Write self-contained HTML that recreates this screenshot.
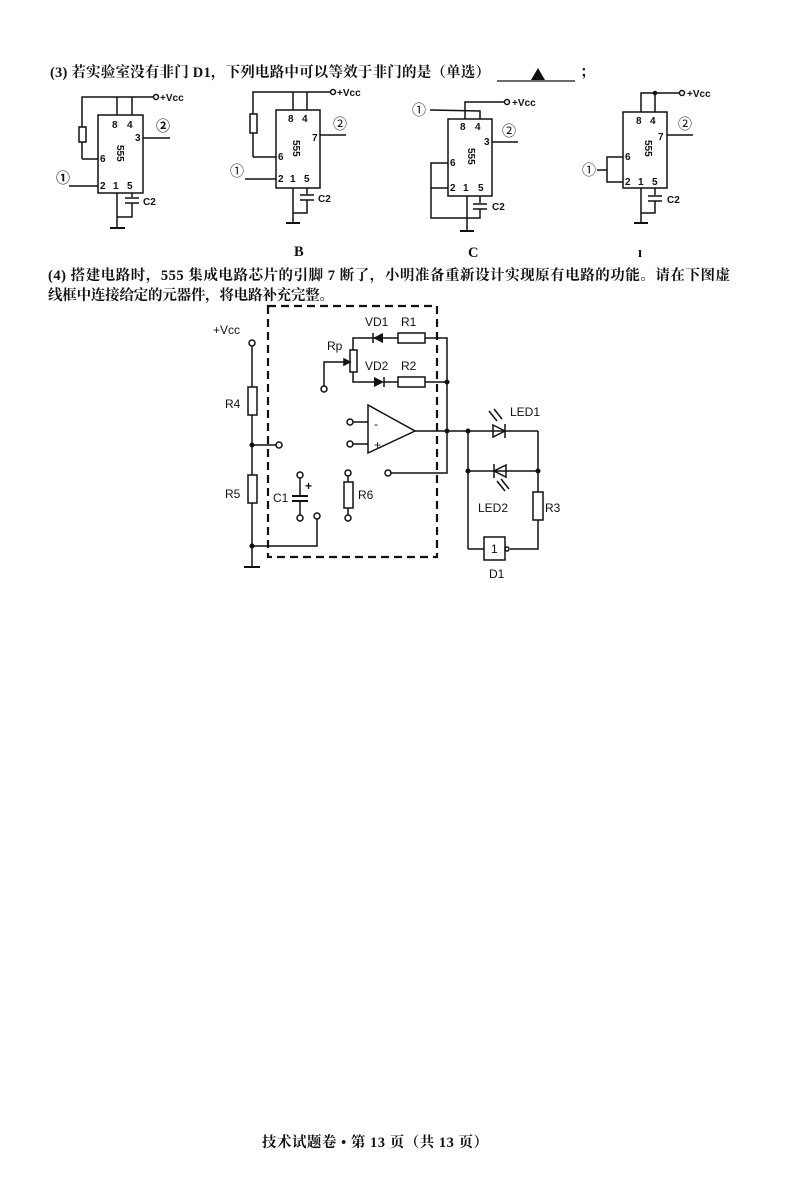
<!DOCTYPE html>
<html><head><meta charset="utf-8"><style>
body{margin:0;background:#fff}
svg{display:block}
text{font-family:"Liberation Sans","Noto Sans CJK SC",sans-serif;fill:#111}
.t{font-family:"Liberation Serif","Noto Serif CJK SC",serif;font-weight:bold;font-size:14.5px}
.s{font-size:10px;font-weight:bold}
.m{font-size:12px}
</style></head><body>
<svg width="800" height="1201" viewBox="0 0 800 1201" xmlns="http://www.w3.org/2000/svg" stroke="#111" stroke-width="1.5" fill="none">
<g stroke="none">
<text class="t" x="50" y="77" textLength="440" lengthAdjust="spacing">(3) 若实验室没有非门 D1，下列电路中可以等效于非门的是（单选）</text>
<text class="t" x="580" y="77">；</text>
<text class="t" x="48" y="280" textLength="682" lengthAdjust="spacing">(4) 搭建电路时，555 集成电路芯片的引脚 7 断了，小明准备重新设计实现原有电路的功能。请在下图虚</text>
<text class="t" x="48" y="300" textLength="286" lengthAdjust="spacing">线框中连接给定的元器件，将电路补充完整。</text>
<text class="t" x="262" y="1147" textLength="226" lengthAdjust="spacing">技术试题卷 • 第 13 页（共 13 页）</text>
</g>
<line x1="497" y1="81" x2="575" y2="81" stroke-width="1.2"/>
<polygon points="538,68 531,80 545,80" fill="#111" stroke="none"/>

<!-- A -->
<g>
<rect x="98" y="115" width="45" height="78"/>
<polyline points="82,159 98,159"/><polyline points="82,142 82,159"/><rect x="79" y="127" width="7" height="15"/>
<polyline points="82,127 82,97 153,97"/><circle cx="156" cy="97" r="2.5"/>
<line x1="117" y1="97" x2="117" y2="115"/><line x1="132" y1="97" x2="132" y2="115"/>
<line x1="69" y1="186" x2="98" y2="186"/><line x1="143" y1="138" x2="170" y2="138"/>
<line x1="117" y1="193" x2="117" y2="228"/><line x1="110" y1="228" x2="125" y2="228" stroke-width="2"/>
<polyline points="132,193 132,197"/><line x1="125" y1="198" x2="139" y2="198"/><line x1="125" y1="203" x2="139" y2="203"/><polyline points="132,203 132,217 117,217"/>
<g stroke="none" class="s"><text x="112" y="128" class="s">8</text><text x="127" y="128" class="s">4</text><text x="135" y="141" class="s">3</text><text x="100" y="162" class="s">6</text><text x="100" y="189" class="s">2</text><text x="113" y="189" class="s">1</text><text x="127" y="189" class="s">5</text><text x="160" y="101" class="s">+Vcc</text><text x="143" y="205" class="s">C2</text><text x="56" y="183" style="font-size:14px">①</text><text x="156" y="131" style="font-size:14px">②</text><text x="117" y="145" class="s" transform="rotate(90 117 145)">555</text></g>
</g>
<!-- B -->
<g>
<rect x="276" y="110" width="44" height="78"/>
<polyline points="253,157 276,157"/><line x1="253" y1="133" x2="253" y2="157"/><rect x="250" y="114" width="7" height="19"/>
<polyline points="253,114 253,92 330,92"/><circle cx="333" cy="92" r="2.5"/>
<line x1="293" y1="92" x2="293" y2="110"/><line x1="307" y1="92" x2="307" y2="110"/>
<line x1="245" y1="179" x2="276" y2="179"/><line x1="320" y1="135" x2="346" y2="135"/>
<line x1="293" y1="188" x2="293" y2="223"/><line x1="286" y1="223" x2="300" y2="223" stroke-width="2"/>
<polyline points="307,188 307,194"/><line x1="300" y1="195" x2="314" y2="195"/><line x1="300" y1="200" x2="314" y2="200"/><polyline points="307,200 307,213 293,213"/>
<g stroke="none"><text x="288" y="122" class="s">8</text><text x="302" y="122" class="s">4</text><text x="312" y="141" class="s">7</text><text x="278" y="160" class="s">6</text><text x="278" y="182" class="s">2</text><text x="290" y="182" class="s">1</text><text x="304" y="182" class="s">5</text><text x="337" y="96" class="s">+Vcc</text><text x="318" y="202" class="s">C2</text><text x="230" y="176" style="font-size:14px">①</text><text x="333" y="129" style="font-size:14px">②</text><text x="293" y="140" class="s" transform="rotate(90 293 140)">555</text><text x="294" y="256" class="t">B</text></g>
</g>
<!-- C -->
<g>
<rect x="448" y="119" width="44" height="77"/>
<polyline points="465,119 465,102 504,102"/><circle cx="507" cy="102" r="2.5"/>
<polyline points="430,110 480,111 480,119"/>
<line x1="492" y1="142" x2="518" y2="142"/>
<polyline points="448,163 431,163 431,188 448,188"/><polyline points="431,188 431,218 467,218"/>
<line x1="467" y1="196" x2="467" y2="231"/><line x1="460" y1="231" x2="474" y2="231" stroke-width="2"/>
<polyline points="480,196 480,203"/><line x1="473" y1="204" x2="487" y2="204"/><line x1="473" y1="209" x2="487" y2="209"/><polyline points="480,209 480,218 467,218"/>
<g stroke="none"><text x="460" y="130" class="s">8</text><text x="475" y="130" class="s">4</text><text x="484" y="145" class="s">3</text><text x="450" y="166" class="s">6</text><text x="450" y="191" class="s">2</text><text x="463" y="191" class="s">1</text><text x="478" y="191" class="s">5</text><text x="512" y="106" class="s">+Vcc</text><text x="492" y="210" class="s">C2</text><text x="412" y="115" style="font-size:14px">①</text><text x="502" y="136" style="font-size:14px">②</text><text x="468" y="148" class="s" transform="rotate(90 468 148)">555</text><text x="468" y="257" class="t">C</text></g>
</g>
<!-- D -->
<g>
<rect x="623" y="112" width="44" height="76"/>
<polyline points="641,112 641,93 679,93"/><circle cx="682" cy="93" r="2.5"/>
<line x1="655" y1="93" x2="655" y2="112"/><circle cx="655" cy="93" r="1.5" fill="#111"/>
<line x1="667" y1="135" x2="693" y2="135"/>
<polyline points="623,157 607,157 607,182 623,182"/><line x1="597" y1="170" x2="607" y2="170"/>
<line x1="641" y1="188" x2="641" y2="223"/><line x1="634" y1="223" x2="648" y2="223" stroke-width="2"/>
<polyline points="655,188 655,195"/><line x1="648" y1="196" x2="662" y2="196"/><line x1="648" y1="201" x2="662" y2="201"/><polyline points="655,201 655,213 641,213"/>
<g stroke="none"><text x="636" y="124" class="s">8</text><text x="650" y="124" class="s">4</text><text x="658" y="140" class="s">7</text><text x="625" y="160" class="s">6</text><text x="625" y="185" class="s">2</text><text x="638" y="185" class="s">1</text><text x="652" y="185" class="s">5</text><text x="687" y="97" class="s">+Vcc</text><text x="667" y="203" class="s">C2</text><text x="582" y="175" style="font-size:14px">①</text><text x="678" y="129" style="font-size:14px">②</text><text x="645" y="140" class="s" transform="rotate(90 645 140)">555</text><text x="638" y="257" class="t">ı</text></g>
</g>

<!-- Part 4 -->
<rect x="268" y="306" width="169" height="251" stroke-dasharray="8,5" stroke-width="2.2"/>
<circle cx="252" cy="343" r="3"/><line x1="252" y1="346" x2="252" y2="387"/><rect x="248" y="387" width="9" height="28"/>
<line x1="252" y1="415" x2="252" y2="475"/><rect x="248" y="475" width="9" height="28"/><line x1="252" y1="503" x2="252" y2="567"/>
<line x1="244" y1="567" x2="260" y2="567" stroke-width="2"/>
<line x1="252" y1="445" x2="276" y2="445"/><circle cx="279" cy="445" r="3"/><circle cx="252" cy="445" r="1.8" fill="#111"/>
<polyline points="252,546 317,546 317,519"/><circle cx="317" cy="516" r="3"/><circle cx="252" cy="546" r="1.8" fill="#111"/>
<circle cx="300" cy="475" r="3"/><line x1="300" y1="478" x2="300" y2="496"/><line x1="292" y1="496" x2="308" y2="496" stroke-width="2"/><line x1="292" y1="501" x2="308" y2="501" stroke-width="2"/><line x1="300" y1="501" x2="300" y2="515"/><circle cx="300" cy="518" r="3"/>
<circle cx="348" cy="473" r="3"/><line x1="348" y1="476" x2="348" y2="482"/><rect x="344" y="482" width="9" height="26"/><line x1="348" y1="508" x2="348" y2="515"/><circle cx="348" cy="518" r="3"/>
<rect x="350" y="350" width="7" height="22"/><polyline points="353,350 353,338 375,338"/><polyline points="353,372 353,382 375,382"/>
<polyline points="324,386 324,362 348,362"/><polygon points="350,362 344,359 344,365" fill="#111"/><circle cx="324" cy="389" r="3"/>
<polygon points="373,338 383,333 383,343" fill="#111" stroke="none"/><line x1="373" y1="333" x2="373" y2="343"/><line x1="383" y1="338" x2="398" y2="338"/>
<rect x="398" y="333" width="27" height="10"/><polyline points="425,338 447,338 447,473 391,473"/><circle cx="388" cy="473" r="3"/>
<polygon points="374,377 384,382 374,387" fill="#111" stroke="none"/><line x1="384" y1="377" x2="384" y2="387"/><line x1="384" y1="382" x2="398" y2="382"/>
<rect x="398" y="377" width="27" height="10"/><line x1="425" y1="382" x2="447" y2="382"/><circle cx="447" cy="382" r="1.8" fill="#111"/>
<polygon points="368,405 368,453 415,431"/><line x1="353" y1="422" x2="368" y2="422"/><line x1="353" y1="444" x2="368" y2="444"/><circle cx="350" cy="422" r="3"/><circle cx="350" cy="444" r="3"/>
<line x1="415" y1="431" x2="538" y2="431"/><circle cx="447" cy="431" r="1.8" fill="#111"/><circle cx="468" cy="431" r="1.8" fill="#111"/>
<polygon points="493,425 505,431 493,437"/><line x1="505" y1="424" x2="505" y2="438"/>
<line x1="497" y1="421" x2="489" y2="411"/><line x1="502" y1="419" x2="494" y2="409"/>
<line x1="468" y1="431" x2="468" y2="549"/><line x1="468" y1="471" x2="538" y2="471"/><circle cx="468" cy="471" r="1.8" fill="#111"/><circle cx="538" cy="471" r="1.8" fill="#111"/>
<polygon points="506,465 494,471 506,477"/><line x1="494" y1="464" x2="494" y2="478"/>
<line x1="497" y1="481" x2="505" y2="491"/><line x1="501" y1="479" x2="509" y2="489"/>
<line x1="538" y1="431" x2="538" y2="492"/><rect x="533" y="492" width="10" height="28"/><polyline points="538,520 538,549 510,549"/><circle cx="507" cy="549" r="2"/>
<polyline points="468,549 484,549"/><rect x="484" y="537" width="21" height="23"/>
<g stroke="none">
<text x="213" y="334" class="m">+Vcc</text><text x="225" y="408" class="m">R4</text><text x="225" y="498" class="m">R5</text><text x="273" y="502" class="m">C1</text><text x="305" y="490" class="m" style="font-weight:bold">+</text><text x="358" y="499" class="m">R6</text>
<text x="327" y="350" class="m">Rp</text><text x="365" y="326" class="m">VD1</text><text x="401" y="326" class="m">R1</text><text x="365" y="370" class="m">VD2</text><text x="401" y="370" class="m">R2</text>
<text x="374" y="428" class="m">-</text><text x="374" y="449" class="m">+</text>
<text x="510" y="416" class="m">LED1</text><text x="478" y="512" class="m">LED2</text><text x="545" y="512" class="m">R3</text><text x="491" y="553" class="m">1</text><text x="489" y="578" class="m">D1</text>
</g>
</svg>
</body></html>
